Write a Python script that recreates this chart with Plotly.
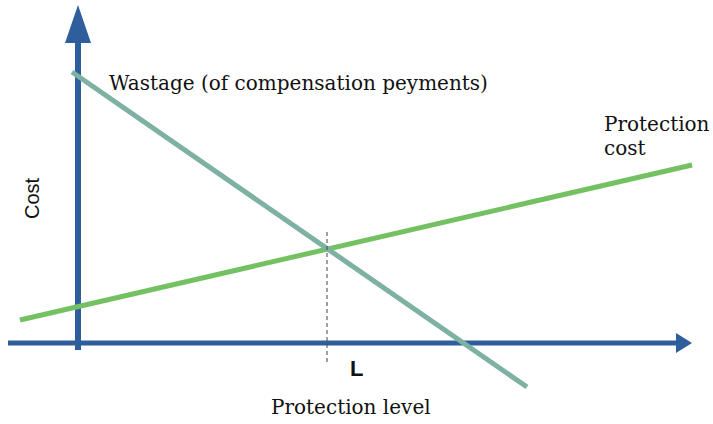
import plotly.graph_objects as go

# Data (chart units: x = protection level, y = cost; origin at axis crossing)
protection_cost_x = [-58, 614]
protection_cost_y = [23, 178]
wastage_x = [-6, 449]
wastage_y = [271, -44]
L_level = 249
L_dash_y = [-19, 114]

x_axis_span = [-70, 614]
y_axis_span = [-7, 338]

AXIS = "#2e5e9c"
GREEN = "#74c162"
TEAL = "#7db1a3"

fig = go.Figure()

fig.add_trace(go.Scatter(x=protection_cost_x, y=protection_cost_y, mode="lines",
                         line=dict(color=GREEN, width=5), hoverinfo="skip"))
fig.add_trace(go.Scatter(x=wastage_x, y=wastage_y, mode="lines",
                         line=dict(color=TEAL, width=5), hoverinfo="skip"))
fig.add_trace(go.Scatter(x=[L_level, L_level], y=L_dash_y, mode="lines",
                         line=dict(color="#444444", width=1, dash="4px,3px"), hoverinfo="skip"))

shapes = []
# horizontal axis shaft + head
shapes.append(dict(type="line", x0=x_axis_span[0], x1=x_axis_span[1] - 16, y0=0, y1=0,
                   line=dict(color=AXIS, width=5), layer="below"))
xt = x_axis_span[1]
shapes.append(dict(type="path", path=f"M {xt},0 L {xt-16},10 L {xt-16},-10 Z",
                   fillcolor=AXIS, line=dict(width=0), layer="below"))
# vertical axis shaft + head
shapes.append(dict(type="line", x0=0, x1=0, y0=y_axis_span[0], y1=y_axis_span[1] - 36,
                   line=dict(color=AXIS, width=6), layer="below"))
yt = y_axis_span[1]
shapes.append(dict(type="path", path=f"M 0,{yt} L -13,{yt-38} L 13,{yt-38} Z",
                   fillcolor=AXIS, line=dict(width=0), layer="below"))

serif = "DejaVu Serif"
sans = "Liberation Sans"
ann = [
    dict(x=29, y=260, text="Wastage (of compensation peyments)", xanchor="left", yanchor="middle",
         font=dict(family=serif, size=20, color="#111")),
    dict(x=524, y=219, text="Protection", xanchor="left", yanchor="middle",
         font=dict(family=serif, size=20, color="#111")),
    dict(x=524, y=195, text="cost", xanchor="left", yanchor="middle",
         font=dict(family=serif, size=20, color="#111")),
    dict(x=-46, y=145, text="Cost", textangle=-90, xanchor="center", yanchor="middle",
         font=dict(family=sans, size=20, color="#111")),
    dict(x=278, y=-25, text="<b>L</b>", xanchor="center", yanchor="middle",
         font=dict(family=sans, size=22, color="#111")),
    dict(x=273, y=-64, text="Protection level", xanchor="center", yanchor="middle",
         font=dict(family=serif, size=20, color="#111")),
]
for a in ann:
    a.update(showarrow=False, xref="x", yref="y")

fig.update_layout(
    width=713, height=424,
    margin=dict(l=0, r=0, t=0, b=0),
    paper_bgcolor="white", plot_bgcolor="white",
    showlegend=False,
    shapes=shapes, annotations=ann,
    xaxis=dict(range=[-78, 635], visible=False, fixedrange=True),
    yaxis=dict(range=[-81, 343], visible=False, fixedrange=True),
)

fig.write_html("out.html", config={"displayModeBar": False},
               post_script="document.body.style.margin='0';document.body.style.overflow='hidden';")
